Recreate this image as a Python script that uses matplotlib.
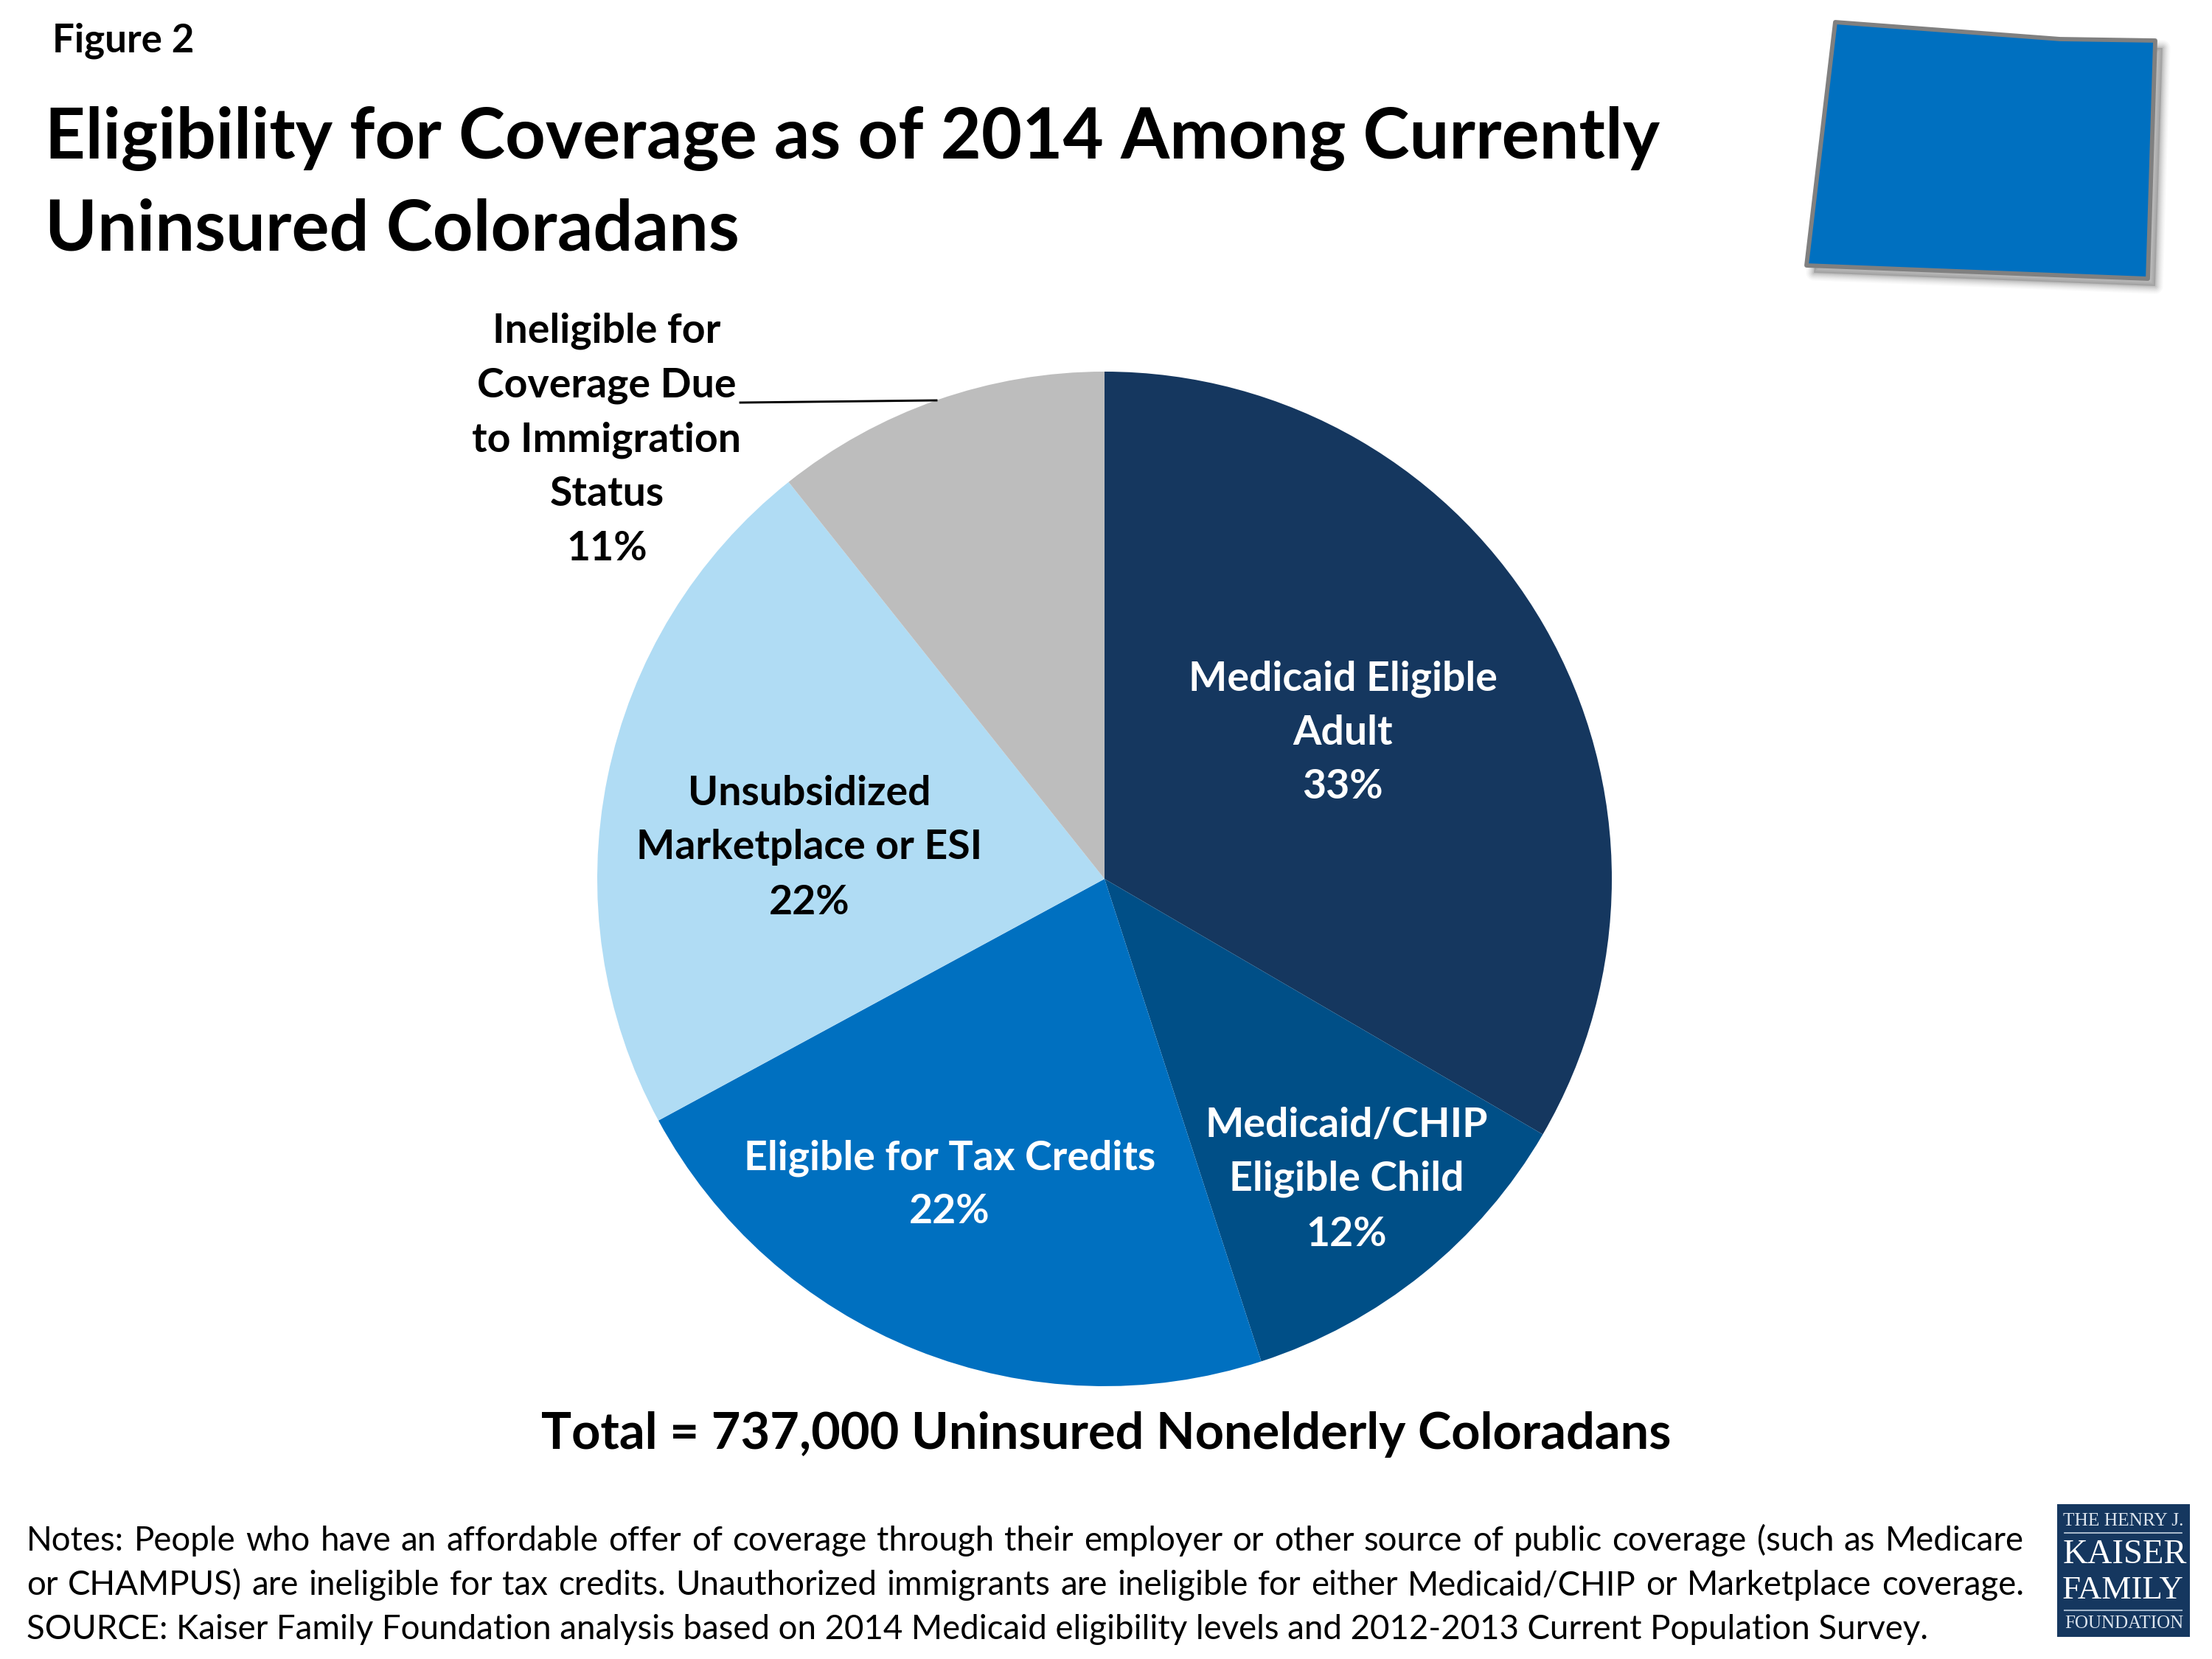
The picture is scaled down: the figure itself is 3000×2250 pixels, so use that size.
import matplotlib
matplotlib.use("Agg")
import matplotlib.pyplot as plt
from matplotlib.patches import Polygon, Rectangle

plt.rcParams['font.family'] = ['Lato', 'DejaVu Sans']

# pie data, clockwise from 12 o'clock (slice sizes)
categories = ["Medicaid Eligible Adult", "Medicaid/CHIP Eligible Child", "Eligible for Tax Credits",
              "Unsubsidized Marketplace or ESI", "Ineligible for Coverage Due to Immigration Status"]
shares = [33.4, 11.6, 22.1, 22.2, 10.7]
colors = ["#15375F", "#004F87", "#0070C0", "#B0DCF4", "#BDBDBD"]

title_lines = ["Eligibility for Coverage as of 2014 Among Currently", "Uninsured Coloradans"]
total_label = "Total = 737,000 Uninsured Nonelderly Coloradans"
note_lines = [
    "Notes: People who have an affordable offer of coverage through their employer or other source of public coverage (such as Medicare",
    "or CHAMPUS) are ineligible for tax credits. Unauthorized immigrants are ineligible for either Medicaid/CHIP or Marketplace coverage.",
    "SOURCE: Kaiser Family Foundation analysis based on 2014 Medicaid eligibility levels and 2012-2013 Current Population Survey.",
]

W, H = 3000, 2250


def justified(fig, ax, x0, x1, y, line, size):
    # spread the words so the line runs from x0 to x1
    words = line.split(" ")
    renderer = fig.canvas.get_renderer()
    texts = [ax.text(0, y, w, fontsize=size, color="black") for w in words]
    widths = [t.get_window_extent(renderer).width for t in texts]
    gap = (x1 - x0 - sum(widths)) / (len(words) - 1)
    x = x0
    for t, w in zip(texts, widths):
        t.set_x(x)
        x += w + gap


def main():
    fig = plt.figure(figsize=(10, 7.5), dpi=300)

    # pie axes, placed in pixels
    cx, cy, r = 1498, 1192, 688
    pie_ax = fig.add_axes([(cx - r) / W, 1 - (cy + r) / H, 2 * r / W, 2 * r / H])
    pie_ax.pie(shares, colors=colors, startangle=90, counterclock=False, radius=1)
    pie_ax.set_xlim(-1, 1)
    pie_ax.set_ylim(-1, 1)

    # overlay in pixel coords for text and decorations
    ax = fig.add_axes([0, 0, 1, 1], facecolor="none")
    ax.set_xlim(0, W)
    ax.set_ylim(H, 0)
    ax.axis("off")

    ax.text(71, 71, "Figure 2", fontsize=12.7, fontweight="bold", color="black")
    for y, line in zip([215, 340], title_lines):
        ax.text(61, y, line, fontsize=22.9, fontweight="bold", color="black")

    label_blocks = [
        (1821, [936, 1010, 1083], ["Medicaid Eligible", "Adult", "33%"], "white"),
        (1826, [1542, 1615, 1690], ["Medicaid/CHIP", "Eligible Child", "12%"], "white"),
        (1288, [1586, 1659], ["Eligible for Tax Credits", "22%"], "white"),
        (1098, [1092, 1165, 1240], ["Unsubsidized", "Marketplace or ESI", "22%"], "black"),
        (823, [465, 538, 612, 686, 760], ["Ineligible for", "Coverage Due", "to Immigration", "Status", "11%"], "black"),
    ]
    for x, ys, lines, col in label_blocks:
        for y, line in zip(ys, lines):
            ax.text(x, y, line, ha="center", fontsize=13.3, fontweight="bold", color=col)

    # leader line
    ax.plot([1004, 1270], [546, 543], color="black", lw=0.7)

    ax.text(1500, 1965, total_label, ha="center", fontsize=16.45, fontweight="bold", color="black")

    justified(fig, ax, 36, 2745, 2103, note_lines[0], 10.96)
    justified(fig, ax, 36, 2745, 2163, note_lines[1], 10.96)
    ax.text(36, 2223, note_lines[2], fontsize=10.96, color="black")

    # Colorado shape with a soft shadow
    shape = [(2489, 30), (2794, 53), (2923, 55), (2913, 378), (2450, 360)]
    shadow = [(x + 10, y + 10) for x, y in shape]
    for lw, alpha in [(5, 0.05), (4, 0.07), (3, 0.1), (2, 0.14), (1, 0.2)]:
        ax.add_patch(Polygon(shadow, closed=True, facecolor="#808080", edgecolor="#808080",
                             lw=lw, alpha=alpha, joinstyle="round"))
    ax.add_patch(Polygon(shape, closed=True, facecolor="#0070C0", edgecolor="#808080",
                         lw=1.4, joinstyle="round"))

    # logo
    ax.add_patch(Rectangle((2790, 2040), 180, 180, facecolor="#15375F", edgecolor="none"))
    serif = "Liberation Serif"
    ax.text(2880, 2063, "THE HENRY J.", ha="center", va="center", family=serif, fontsize=6.1, color="#DDE5EE")
    ax.text(2882, 2109, "KAISER", ha="center", va="center", family=serif, fontsize=11.2, color="white")
    ax.text(2879, 2157, "FAMILY", ha="center", va="center", family=serif, fontsize=10.8, color="white")
    ax.text(2881, 2202, "FOUNDATION", ha="center", va="center", family=serif, fontsize=6.0, color="#DDE5EE")
    ax.plot([2800, 2959], [2079, 2079], color="#C5D2E0", lw=0.4)
    ax.plot([2800, 2959], [2184, 2184], color="#9FB3C9", lw=0.5)

    fig.savefig("out.png", dpi=300)


if __name__ == "__main__":
    main()
